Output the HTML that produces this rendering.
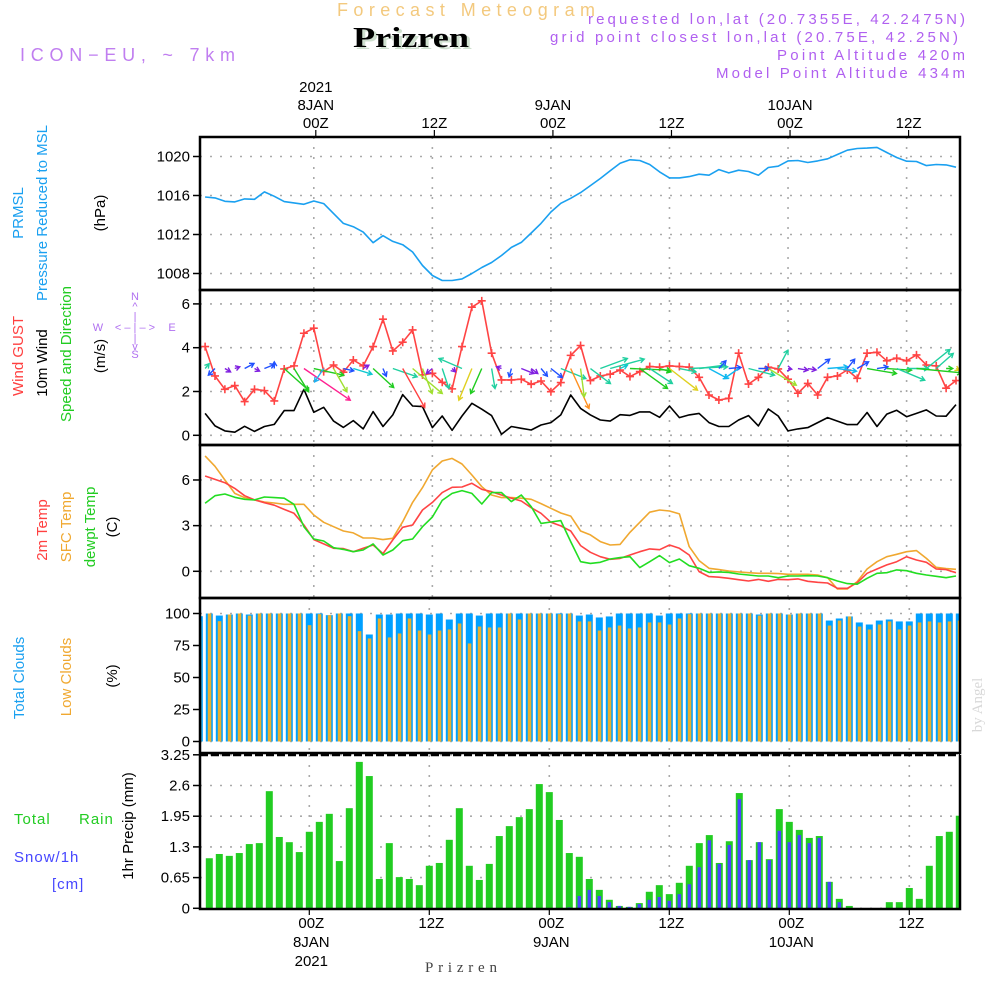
<!DOCTYPE html>
<html><head><meta charset="utf-8">
<style>
html,body{margin:0;padding:0;background:#fff;}
svg{display:block;font-family:"Liberation Sans",sans-serif;}
.tk{font-size:15px;fill:#000;}
.lbl{font-size:15px;}
</style></head>
<body>
<svg id="chart" width="1000" height="1000" viewBox="0 0 1000 1000">
<rect x="0" y="0" width="1000" height="1000" fill="#fff"/>
<!-- header -->
<text x="337" y="16" font-size="18" fill="#f3c97e" textLength="258" lengthAdjust="spacing">Forecast Meteogram</text>
<text x="356" y="49" font-size="28" font-weight="bold" font-family="Liberation Serif,serif" fill="#cfe0cf" textLength="116" lengthAdjust="spacingAndGlyphs">Prizren</text>
<text x="353" y="47" font-size="28" font-weight="bold" font-family="Liberation Serif,serif" fill="#000" textLength="116" lengthAdjust="spacingAndGlyphs">Prizren</text>
<text x="20" y="61" font-size="18" fill="#c07ef0" textLength="215" lengthAdjust="spacing">ICON−EU, ~ 7km</text>
<g font-size="15" fill="#b060f0">
<text x="588" y="24" textLength="377" lengthAdjust="spacing">requested lon,lat (20.7355E, 42.2475N)</text>
<text x="550" y="42" textLength="408" lengthAdjust="spacing">grid point closest lon,lat (20.75E, 42.25N)</text>
<text x="777" y="60" textLength="188" lengthAdjust="spacing">Point Altitude 420m</text>
<text x="716" y="78" textLength="249" lengthAdjust="spacing">Model Point Altitude 434m</text>
</g>
<!-- left labels -->
<g class="lbl">
<text transform="translate(23,213) rotate(-90)" text-anchor="middle" fill="#1aa0f0">PRMSL</text>
<text transform="translate(47,213) rotate(-90)" text-anchor="middle" fill="#1aa0f0">Pressure Reduced to MSL</text>
<text transform="translate(105,213) rotate(-90)" text-anchor="middle" fill="#000">(hPa)</text>
</g>
<g class="lbl">
<text transform="translate(23,356) rotate(-90)" text-anchor="middle" fill="#ff4040">Wind GUST</text>
<text transform="translate(47,363) rotate(-90)" text-anchor="middle" fill="#000">10m Wind</text>
<text transform="translate(71,354) rotate(-90)" text-anchor="middle" fill="#22cc22">Speed and Direction</text>
<text transform="translate(105,356) rotate(-90)" text-anchor="middle" fill="#000">(m/s)</text>
<g font-size="11" fill="#b070f0" text-anchor="middle">
<text x="135" y="300">N</text><text x="135" y="310">^</text><text x="135" y="320">|</text>
<text x="98" y="331">W</text><text x="135" y="331">&lt; – | – &gt;</text><text x="172" y="331">E</text>
<text x="135" y="342">|</text><text x="135" y="350">v</text><text x="135" y="358">S</text>
</g>
</g>
<g class="lbl">
<text transform="translate(47,530) rotate(-90)" text-anchor="middle" fill="#ff4040">2m Temp</text>
<text transform="translate(71,527) rotate(-90)" text-anchor="middle" fill="#f0a830">SFC Temp</text>
<text transform="translate(95,527) rotate(-90)" text-anchor="middle" fill="#22cc22">dewpt Temp</text>
<text transform="translate(117,527) rotate(-90)" text-anchor="middle" fill="#000">(C)</text>
</g>
<g class="lbl">
<text transform="translate(24,678) rotate(-90)" text-anchor="middle" fill="#1aa0f0">Total Clouds</text>
<text transform="translate(71,677) rotate(-90)" text-anchor="middle" fill="#f0a830">Low Clouds</text>
<text transform="translate(117,676) rotate(-90)" text-anchor="middle" fill="#000">(%)</text>
</g>
<g font-size="15" letter-spacing="1">
<text x="14" y="824" fill="#22cc22">Total</text>
<text x="79" y="824" fill="#22cc22">Rain</text>
<text x="14" y="862" fill="#4646ff">Snow/1h</text>
<text x="52" y="889" fill="#4646ff">[cm]</text>
<text transform="translate(133,826) rotate(-90)" text-anchor="middle" fill="#000" letter-spacing="0">1hr Precip (mm)</text>
</g>
<text transform="translate(982,705) rotate(-90)" text-anchor="middle" font-size="15" font-family="Liberation Serif,serif" fill="#d8d8d8">by Angel</text>
<text x="425" y="972" font-size="15" font-family="Liberation Serif,serif" fill="#444" textLength="72" lengthAdjust="spacing">Prizren</text>
<g id="plots"></g>
</svg>
<script>
// ===== DATA =====
const startHourMain = -11; // hours relative to 00Z 8JAN
const pressure = [1015.85,1015.75,1015.41,1015.34,1015.65,1015.61,1016.37,1015.92,1015.37,1015.24,1015.10,1015.44,1015.17,1014.14,1013.14,1012.80,1012.25,1011.16,1011.88,1011.29,1010.95,1010.20,1008.82,1007.80,1007.28,1007.28,1007.45,1008.00,1008.62,1009.13,1009.85,1010.68,1011.19,1012.15,1013.14,1014.31,1015.20,1015.71,1016.30,1017.02,1017.74,1018.53,1019.31,1019.66,1019.59,1019.18,1018.42,1017.81,1017.81,1017.94,1018.18,1018.08,1018.66,1018.32,1018.59,1018.46,1018.08,1018.87,1019.01,1019.55,1019.59,1019.38,1019.55,1019.76,1020.21,1020.65,1020.82,1020.86,1020.93,1020.41,1019.90,1019.52,1019.49,1019.07,1019.18,1019.14,1018.90];
const windGust = [4.05,2.71,2.10,2.27,1.54,2.10,2.04,1.57,3.03,3.17,4.66,4.89,2.91,3.21,2.88,3.44,3.17,4.05,5.30,3.85,4.25,4.81,2.76,2.83,2.42,2.12,4.05,5.85,6.14,3.75,2.53,2.53,2.56,2.33,2.48,1.99,2.41,3.65,4.10,2.50,2.71,2.79,2.98,2.68,2.91,3.14,3.11,3.17,3.14,3.11,2.65,1.84,1.61,1.69,3.75,2.34,2.65,3.11,3.03,2.56,1.92,2.37,1.84,2.65,2.71,2.98,2.60,3.75,3.79,3.40,3.52,3.40,3.67,3.21,3.17,2.15,2.50];
const windSpeed = [1.00,0.43,0.20,0.14,0.41,0.18,0.40,0.50,1.13,1.13,2.10,1.05,1.28,0.65,0.36,0.67,0.29,1.08,0.40,0.93,1.86,1.34,1.31,0.35,0.88,0.23,0.88,1.46,1.19,0.90,0.05,0.40,0.32,0.24,0.47,0.58,0.93,1.84,1.23,0.93,0.70,0.65,0.94,0.91,1.07,1.07,0.82,1.34,0.81,0.93,1.00,0.58,0.40,0.40,0.70,0.90,0.43,1.20,0.88,0.20,0.29,0.35,0.58,0.81,0.65,0.49,0.49,1.04,0.40,0.97,1.14,0.85,1.00,1.16,0.88,0.87,1.40];
const windU = [0.5,-0.83,0.71,0.63,1.17,0.63,1.25,0,3.04,1.83,5.79,3.75,-1.13,1.67,1.29,2.33,0.71,2.58,0.42,3.04,2.75,3.71,1.21,-0.75,0.83,0.42,-2.88,-1.63,-1.38,0.42,-0.63,-0.29,1.58,0.83,0.79,1.42,3.13,2.29,0.46,2.5,3.38,4.25,0.92,5.13,3.46,2.83,1.42,3.5,2.08,4.79,3.17,2.33,0.88,1.54,-1.79,3.25,1.38,3.5,1.21,0.46,1.25,1.04,1.5,2.54,2.38,0.92,1.42,3.67,1.38,3.08,3.5,2.71,5.63,2.96,2.13,0.83,0.42];
const windV = [0.6,-0.83,-0.42,0.21,0.63,-0.33,0.5,0.83,-2.71,-2.92,-3.96,-0.83,-1.67,-2.92,-0.29,-0.71,0.42,-2.38,-0.96,-1.04,-4.88,-3.13,-3.13,-0.63,-2.5,-0.42,1.25,-3.96,-3.13,-2.5,0.21,-1.04,-0.63,-0.63,-0.96,-1.13,-1.25,-5,-3.54,-1.88,1.25,1.17,0.42,-0.21,-2.5,-1.88,-0.42,-2.71,-0.42,0.21,0.42,-1.25,0.96,0.13,-1.25,-0.83,0,-2.08,2.29,-0.08,-0.21,-0.17,1.17,0.21,-0.33,1.17,0.83,-0.63,0.21,-0.21,-1.46,0,-0.54,2.38,1.88,0,-0.21];
const windColors = ["#20d0a0","#2050ff","#8020e0","#8020e0","#2050ff","#8020e0","#2050ff","#2050ff","#20cc20","#20cc20","#ff2090","#20cc20","#20b0f0","#a0e030","#2050ff","#10c8d0","#8020e0","#20cc20","#2050ff","#20d0a0","#ff4040","#a0e030","#a0e030","#8020e0","#20d0a0","#8020e0","#20d0a0","#e0d020","#20cc20","#20d0a0","#8020e0","#2050ff","#8020e0","#8020e0","#2050ff","#2050ff","#20d0a0","#ff9020","#a0e030","#20d0a0","#20d0a0","#20d0a0","#10c8d0","#20cc20","#20cc20","#20d0a0","#20cc20","#e0d020","#20d0a0","#20d0a0","#20d0a0","#10b8f0","#2050ff","#2050ff","#10b8f0","#20d0a0","#2050ff","#a0e030","#20d0a0","#8020e0","#8020e0","#8020e0","#2050ff","#10b8f0","#10b8f0","#2050ff","#2050ff","#20cc20","#2050ff","#20cc20","#20d0a0","#20d0a0","#20cc20","#20d0a0","#20d0a0","#20cc20","#e0d020"];
const temp2m = [6.26,6.04,5.82,5.45,4.97,4.69,4.51,4.34,4.07,3.81,3.04,2.08,1.80,1.51,1.49,1.29,1.51,1.73,1.16,2.06,2.89,3.04,4.03,4.53,5.17,5.52,5.54,5.78,5.39,5.23,5.01,4.80,4.62,4.18,3.81,3.22,2.98,2.65,1.69,1.25,0.96,0.79,0.85,1.07,1.29,1.47,1.42,1.73,1.51,1.07,-0.02,-0.35,-0.39,-0.46,-0.55,-0.64,-0.53,-0.66,-0.53,-0.55,-0.50,-0.66,-0.72,-0.77,-1.12,-1.12,-0.75,-0.13,0.15,0.42,0.63,0.96,0.74,0.59,0.15,0.11,-0.09];
const tempSfc = [7.58,6.90,6.00,5.12,4.84,4.69,4.55,4.49,4.40,4.40,4.40,3.70,3.22,2.93,2.65,2.52,2.19,2.19,2.08,2.17,3.26,4.53,5.50,6.66,7.25,7.42,7.05,6.33,5.56,5.01,4.84,4.84,4.80,4.73,4.45,4.14,3.83,3.63,2.65,2.39,1.95,1.73,1.77,2.56,3.22,3.88,4.03,3.96,3.77,1.62,0.70,0.20,0.11,0.02,-0.04,-0.09,-0.13,-0.13,-0.15,-0.20,-0.20,-0.20,-0.24,-0.42,-1.16,-1.16,-0.68,0.15,0.63,0.96,1.12,1.29,1.36,0.85,0.26,0.18,0.13];
const tempDew = [4.47,4.97,5.08,4.86,4.73,4.69,4.88,4.84,4.80,4.40,2.93,2.12,1.99,1.55,1.44,1.29,1.40,1.80,1.07,1.40,2.01,2.12,2.93,3.57,4.66,5.12,5.30,5.12,4.42,5.17,5.17,4.58,5.01,4.25,3.15,3.24,3.33,1.95,0.63,0.52,0.59,0.81,0.90,0.96,0.24,0.63,1.03,0.57,0.81,0.37,0.20,-0.07,-0.04,-0.07,-0.18,-0.24,-0.31,-0.31,-0.42,-0.31,-0.31,-0.29,-0.31,-0.42,-0.64,-0.81,-0.85,-0.46,-0.13,-0.09,0.09,0.04,-0.13,-0.24,-0.33,-0.42,-0.31];
const totalClouds = [97.9,100,98.4,99.2,100,99.2,100,100,100,100,100,100,100,98.7,100,100,100,83.6,99.2,99.2,100,100,100,99.2,100,95.3,100,100,98.4,100,100,100,100,100,100,100,100,100,98.4,99.2,96.9,97.7,100,100,100,100,98.4,100,100,100,100,100,100,100,100,100,99.2,100,100,99.2,100,100,100,94.5,96.1,97.7,93.0,91.4,94.5,95.3,93.8,93.8,100,100,100,100,100];
const lowClouds = [94.0,100,94.0,99.2,100,98.4,100,100,100,100,100,90.9,99.5,98.7,100,97.9,86.2,80.5,96.1,81.3,84.4,96.1,86.7,83.6,86.7,87.5,92.2,76.6,89.8,89.1,89.1,100,95.3,100,100,100,99.5,100,93.8,93.8,86.7,89.1,90.6,88.3,89.1,93.0,93.0,91.4,96.1,99.5,100,100,100,100,100,100,98.4,100,100,99.2,100,100,100,90.6,94.5,97.7,89.8,87.5,91.4,93.8,87.5,90.6,93.0,93.8,93.0,93.8,94.5];
const startHourPrecip = -10;
const totalPrecip = [1.06,1.15,1.11,1.17,1.36,1.38,2.48,1.51,1.40,1.19,1.62,1.83,2.00,1.00,2.12,3.10,2.80,0.62,1.38,0.66,0.62,0.49,0.90,0.96,1.45,2.12,0.90,0.60,0.94,1.53,1.74,1.93,2.10,2.63,2.46,1.87,1.17,1.09,0.62,0.39,0.18,0.05,0.03,0.11,0.35,0.49,0.30,0.54,0.90,1.38,1.55,0.96,1.42,2.44,1.02,1.40,1.04,2.10,1.83,1.66,1.49,1.53,0.56,0.20,0.05,0,0,0,0.13,0.13,0.43,0.20,0.90,1.53,1.62,1.96];
const snowPrecip = [0,0,0,0,0,0,0,0,0,0,0.01,0,0,0,0,0,0,0,0,0,0,0,0,0,0,0,0,0,0,0,0,0,0,0,0,0,0.02,0.26,0.39,0.26,0.13,0.05,0.03,0.09,0.18,0.24,0.16,0.30,0.51,0.87,1.44,0.94,1.34,2.31,1.02,1.40,1.02,1.64,1.40,1.55,1.38,1.49,0.56,0.13,0,0,0,0,0,0,0,0,0,0,0,0];
const pressureTicks = [1008,1012,1016,1020];
const windTicks = [0,2,4,6];
const tempTicks = [0,3,6];
const cloudTicks = [0,25,50,75,100];
const precipTicks = [0,0.65,1.3,1.95,2.6,3.25];
const precipTickLabels = ["0","0.65","1.3","1.95","2.6","3.25"];
const timeTickHours = [0,12,24,36,48,60];
const timeTickLabels = ["00Z","12Z","00Z","12Z","00Z","12Z"];
const dayLabels = ["8JAN","","9JAN","","10JAN",""];

// ===== AXES =====
const L=200,R=960;
const xa = h => 313.8 + 9.88*h;   // upper panels
const xb = h => 309.3 + 10*h;     // clouds / precip panels
const yP = v => 156.5 + (1020 - v)*9.75;
const yW = v => 435.3 - 21.9*v;
const yT = v => 571.3 - 15.22*v;
const yC = v => 741.5 - 1.28*v;
const yR = v => 908.3 - 47.23*v;
const panels = [{t:137,b:290,x:xa,name:'pressure'},{t:290,b:445,x:xa,name:'wind'},{t:445,b:598,x:xa,name:'temperature'},{t:598,b:753,x:xb,name:'clouds'},{t:755,b:909,x:xb,name:'precip'}];

const NS='http://www.w3.org/2000/svg';
const root=document.getElementById('plots');
function mk(tag,attrs,parent){const e=document.createElementNS(NS,tag);for(const k in attrs)e.setAttribute(k,attrs[k]);(parent||root).appendChild(e);return e;}

const defs=mk('defs',{});
panels.forEach((p,i)=>{const c=mk('clipPath',{id:'clip'+i},defs);mk('rect',{x:L,y:p.t,width:R-L,height:p.b-p.t},c);});

function gridAndAxis(p,i,ticks,yf,labels){
  const g=mk('g',{});
  
  
  ticks.forEach((v,k)=>{
    const y=yf(v);
    const gl=mk('line',{x1:L,x2:R,y1:y,y2:y,stroke:'#aaa','stroke-width':1.6,'stroke-dasharray':'2 8'},g);
    
    
    mk('line',{x1:L-7,x2:L,y1:y,y2:y,stroke:'#000','stroke-width':1.5},g);
    const t=mk('text',{x:L-10,y:y+5,'text-anchor':'end',class:'tk'},g);
    t.textContent=labels?labels[k]:String(v);
    
    
  });
  timeTickHours.forEach(h=>{
    const x=p.x(h);
    const vl=mk('line',{x1:x,x2:x,y1:p.t,y2:p.b,stroke:'#aaa','stroke-width':1.6,'stroke-dasharray':'2 8'},g);
    
    
  });
}
function frame(p){
  const r=mk('rect',{x:L,y:p.t,width:R-L,height:p.b-p.t,fill:'none',stroke:'#000','stroke-width':2.5});
  
  
}
function polyline(arr,start,xf,yf,color,clip,name,w){
  const pts=arr.map((v,i)=>xf(start+i).toFixed(1)+','+yf(v).toFixed(1)).join(' ');
  const pl=mk('polyline',{points:pts,fill:'none',stroke:color,'stroke-width':w||1.6,'clip-path':'url(#clip'+clip+')','stroke-linejoin':'round'});
  
  
  return pl;
}

// Panel 1: pressure
gridAndAxis(panels[0],0,pressureTicks,yP);
polyline(pressure,startHourMain,xa,yP,'#1aa0f0',0,'pressure-line');

// Panel 2: wind
gridAndAxis(panels[1],1,windTicks,yW);
polyline(windSpeed,startHourMain,xa,yW,'#000',1,'wind-speed-line');
polyline(windGust,startHourMain,xa,yW,'#ff4444',1,'wind-gust-line');
const gustG=mk('g',{'clip-path':'url(#clip1)'});


windGust.forEach((v,i)=>{
  const x=xa(startHourMain+i),y=yW(v);
  const m=mk('path',{d:`M${x-4},${y}H${x+4}M${x},${y-4}V${y+4}`,stroke:'#ff4444','stroke-width':1.6},gustG);
  
  
});
const arrowG=mk('g',{'clip-path':'url(#clip1)'});


const arrowScale=8, arrowBase=yW(3.05);
windU.forEach((u,i)=>{
  const v=windV[i];
  const x0=xa(startHourMain+i),y0=arrowBase;
  const x1=x0+u*arrowScale,y1=y0-v*arrowScale;
  const ang=Math.atan2(y1-y0,x1-x0),hl=5;
  const a1=ang+Math.PI*0.83,a2=ang-Math.PI*0.83;
  const d=`M${x0},${y0}L${x1},${y1}M${x1+hl*Math.cos(a1)},${y1+hl*Math.sin(a1)}L${x1},${y1}L${x1+hl*Math.cos(a2)},${y1+hl*Math.sin(a2)}`;
  const a=mk('path',{d:d,stroke:windColors[i],'stroke-width':1.4,fill:'none'},arrowG);
  
  
});

// Panel 3: temperatures
gridAndAxis(panels[2],2,tempTicks,yT);
polyline(tempSfc,startHourMain,xa,yT,'#f0a830',2,'sfc-temp-line');
polyline(temp2m,startHourMain,xa,yT,'#ff4444',2,'temp-2m-line');
polyline(tempDew,startHourMain,xa,yT,'#22dd22',2,'dewpoint-line');

// Panel 4: clouds
gridAndAxis(panels[3],3,cloudTicks,yC);
const cloudG=mk('g',{'clip-path':'url(#clip3)'});


totalClouds.forEach((v,i)=>{
  const x=xb(startHourMain+i);
  const b=mk('rect',{x:x-3.5,y:yC(v),width:7,height:yC(0)-yC(v),fill:'#00a0ff'},cloudG);
  
  
  const lv=lowClouds[i];
  const o=mk('rect',{x:x-1.5,y:yC(lv),width:3.5,height:yC(0)-yC(lv),fill:'#e8b030'},cloudG);
  
  
});

// Panel 5: precip
gridAndAxis(panels[4],4,precipTicks,yR,precipTickLabels);
const prG=mk('g',{'clip-path':'url(#clip4)'});


totalPrecip.forEach((v,i)=>{
  const x=xb(startHourPrecip+i);
  if(v>0){
    const b=mk('rect',{x:x-3.5,y:yR(v),width:7,height:yR(0)-yR(v),fill:'#22cc22'},prG);
    
    
  }
  const s=snowPrecip[i];
  if(s>0){
    const sb=mk('rect',{x:x-1.7,y:yR(s),width:3.5,height:yR(0)-yR(s),fill:'#4646ff'},prG);
    
    
  }
});
const dash=mk('line',{x1:L,x2:R,y1:755,y2:755,stroke:'#000','stroke-width':2.5,'stroke-dasharray':'8 3'});



panels.forEach((p,i)=>{ if(i!==4) frame(p); });
const pf=mk('path',{d:`M${L},755V909H${R}V755`,fill:'none',stroke:'#000','stroke-width':2.5});



// Time axes (top & bottom)
const topG=mk('g',{class:'tk','text-anchor':'middle'});


timeTickHours.forEach((h,k)=>{
  const x=xa(h)+2;
  mk('line',{x1:x,x2:x,y1:130,y2:137,stroke:'#000','stroke-width':1.2},topG);
  const t=mk('text',{x:x,y:128,'font-size':15},topG); t.textContent=timeTickLabels[k];
  
  
  if(dayLabels[k]){const d=mk('text',{x:x,y:110,'font-size':15},topG); d.textContent=dayLabels[k];
    
    }
});
const yr=mk('text',{x:xa(0)+2,y:92,'font-size':15},topG); yr.textContent='2021';


const botG=mk('g',{class:'tk','text-anchor':'middle'});


timeTickHours.forEach((h,k)=>{
  const x=xb(h)+2;
  mk('line',{x1:x-2,x2:x-2,y1:909,y2:915,stroke:'#000','stroke-width':1.2},botG);
  const t=mk('text',{x:x,y:928,'font-size':15},botG); t.textContent=timeTickLabels[k];
  
  
  if(dayLabels[k]){const d=mk('text',{x:x,y:947,'font-size':15},botG); d.textContent=dayLabels[k];
    
    }
});
const yr2=mk('text',{x:xb(0)+2,y:966,'font-size':15},botG); yr2.textContent='2021';


</script>
</body></html>
